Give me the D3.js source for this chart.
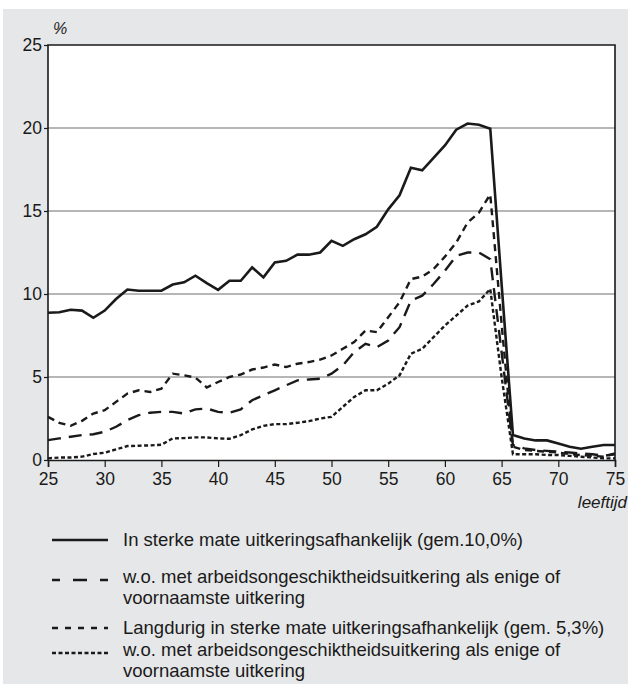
<!DOCTYPE html>
<html><head><meta charset="utf-8">
<script src="https://cdn.jsdelivr.net/npm/d3@7"></script>
<style>body{margin:0;background:#fff}svg{display:block}text{font-family:"Liberation Sans",Arial,sans-serif;fill:#1a1a1a}</style>
</head><body><svg id="c" width="628" height="684"></svg>
<script>
const ages = d3.range(25, 76);
const sterk = [8.87,8.9,9.05,9.0,8.57,9.0,9.7,10.27,10.2,10.2,10.2,10.57,10.7,11.1,10.65,10.25,10.8,10.8,11.6,11.0,11.9,12.0,12.37,12.37,12.5,13.2,12.9,13.3,13.6,14.05,15.1,15.95,17.6,17.45,18.2,18.95,19.9,20.27,20.2,19.96,10.6,1.5,1.3,1.18,1.18,1.0,0.8,0.68,0.8,0.9,0.9];
const sterkAO = [1.2,1.3,1.4,1.5,1.55,1.7,2.0,2.4,2.7,2.85,2.9,2.9,2.8,3.05,3.1,2.9,2.85,3.05,3.6,3.9,4.2,4.5,4.8,4.85,4.9,5.2,5.7,6.5,7.0,6.8,7.2,8.0,9.6,9.9,10.6,11.4,12.3,12.5,12.5,12.1,6.5,0.9,0.7,0.6,0.55,0.5,0.45,0.4,0.35,0.25,0.35];
const langdurig = [2.6,2.24,2.06,2.36,2.8,3.0,3.5,4.0,4.2,4.1,4.3,5.2,5.1,4.97,4.37,4.7,5.0,5.15,5.45,5.57,5.75,5.6,5.8,5.9,6.05,6.3,6.7,7.1,7.8,7.7,8.6,9.5,10.9,11.05,11.5,12.25,13.1,14.3,14.9,16.0,8.2,0.8,0.6,0.55,0.5,0.45,0.35,0.3,0.25,0.2,0.4];
const langdurigAO = [0.1,0.15,0.15,0.2,0.36,0.44,0.64,0.84,0.86,0.88,0.92,1.3,1.32,1.36,1.36,1.3,1.28,1.5,1.84,2.06,2.16,2.16,2.24,2.34,2.5,2.6,3.2,3.8,4.2,4.2,4.6,5.1,6.4,6.7,7.4,8.1,8.7,9.3,9.55,10.3,5.0,0.35,0.35,0.35,0.3,0.3,0.25,0.2,0.15,0.1,0.1];
const yTicks = [0,5,10,15,20,25];
const xTicks = [25,30,35,40,45,50,55,60,65,70,75];
const legendLabels = [
  ["In sterke mate uitkeringsafhankelijk (gem.10,0%)"],
  ["w.o. met arbeidsongeschiktheidsuitkering als enige of","voornaamste uitkering"],
  ["Langdurig in sterke mate uitkeringsafhankelijk (gem. 5,3%)"],
  ["w.o. met arbeidsongeschiktheidsuitkering als enige of","voornaamste uitkering"]
];

const series = [
  {v: sterk, dash: null, w: 2.6, legDash: null},
  {v: sterkAO, dash: "13,8", w: 2.4, legDash: "14,13"},
  {v: langdurig, dash: "7,5", w: 2.4, legDash: "6,7"},
  {v: langdurigAO, dash: "4,2.5", w: 2.4, legDash: "4,2.5"}
];

const svg = d3.select("#c");
svg.append("rect").attr("x",3).attr("y",9).attr("width",625).attr("height",675).attr("fill","#e6e7e8");

const x = d3.scaleLinear().domain([25,75]).range([48,615]);
const y = d3.scaleLinear().domain([0,25]).range([460,45]);

svg.append("rect").attr("x",x(25)).attr("y",y(25)).attr("width",x(75)-x(25)).attr("height",y(0)-y(25)).attr("fill","#fff");

svg.append("g").selectAll("line").data(yTicks.filter(d=>d>0&&d<25)).join("line")
  .attr("x1",x(25)).attr("x2",x(75)).attr("y1",d=>y(d)).attr("y2",d=>y(d))
  .attr("stroke","#6f6f6f").attr("stroke-width",1.2);

const fr = svg.append("g").attr("stroke","#1a1a1a").attr("stroke-width",1.6).attr("fill","none");
fr.append("path").attr("d",`M${x(25)},${y(0)}V${y(25)}H${x(75)}V${y(0)}`);

const ya = svg.append("g").attr("transform",`translate(${x(25)},0)`)
  .call(d3.axisLeft(y).tickValues(yTicks).tickSize(4).tickPadding(2));
ya.select(".domain").remove();
ya.selectAll("line").attr("stroke","#1a1a1a").attr("stroke-width",1.2);
ya.selectAll("text").attr("font-size",17.5).attr("fill","#1a1a1a").attr("font-family","Liberation Sans, Arial, sans-serif");

const xa = svg.append("g").attr("transform",`translate(0,${y(0)})`)
  .call(d3.axisBottom(x).tickValues(xTicks).tickSize(7).tickPadding(6));
xa.select(".domain").attr("stroke","#1a1a1a").attr("stroke-width",1.6);
xa.selectAll("line").attr("stroke","#1a1a1a").attr("stroke-width",1.2);
xa.selectAll("text").attr("font-size",17.5).attr("fill","#1a1a1a").attr("font-family","Liberation Sans, Arial, sans-serif");

svg.append("text").attr("x",53).attr("y",34).attr("font-size",16).attr("font-style","italic").text("%");
svg.append("text").attr("x",627).attr("y",508).attr("text-anchor","end").attr("font-size",17).attr("font-style","italic").text("leeftijd");

const line = d3.line().x((d,i)=>x(ages[i])).y(d=>y(d));
series.forEach(s=>{
  svg.append("path").datum(s.v).attr("d",line).attr("fill","none")
    .attr("stroke","#1a1a1a").attr("stroke-width",s.w)
    .attr("stroke-dasharray",s.dash).attr("stroke-linejoin","miter");
});

const rowY = [540, 577, 628, 650];
const lg = svg.append("g");
series.forEach((s,i)=>{
  const off = (i===1||i===3) ? 3 : 0;
  lg.append("line").attr("x1",52).attr("x2",108).attr("y1",rowY[i]+off).attr("y2",rowY[i]+off)
    .attr("stroke","#1a1a1a").attr("stroke-width",2.6).attr("stroke-dasharray",s.legDash)
    .attr("stroke-dashoffset", i===1? 6 : 0);
  legendLabels[i].forEach((t,j)=>{
    lg.append("text").attr("x",123).attr("y",rowY[i]+j*20.5).attr("dy","0.35em").attr("font-size",18.5).text(t);
  });
});
</script></body></html>
